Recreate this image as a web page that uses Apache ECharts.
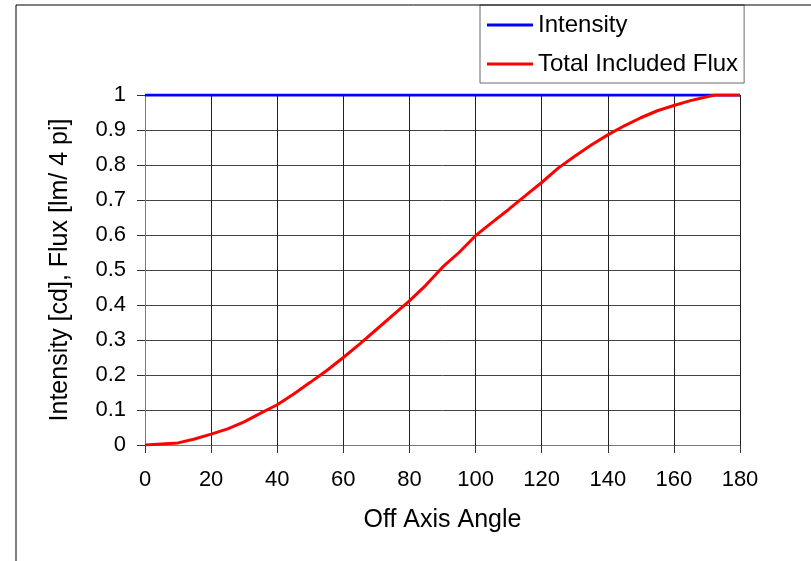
<!DOCTYPE html>
<html>
<head>
<meta charset="utf-8">
<script src="https://cdn.jsdelivr.net/npm/echarts@6/dist/echarts.min.js"></script>
<style>
html,body{margin:0;padding:0;background:#fff;}
#chart{width:811px;height:561px;}
</style>
</head>
<body>
<div id="chart"></div>
<script>
// Off-axis angle in degrees
const angles = [0, 5, 10, 15, 20, 25, 30, 35, 40, 45, 50, 55, 60, 65, 70, 75, 80, 85, 90, 95,
  100, 105, 110, 115, 120, 125, 130, 135, 140, 145, 150, 155, 160, 165, 170, 172.5, 180];
// Normalised intensity (cd)
const intensity = [1, 1, 1, 1, 1, 1, 1, 1, 1, 1, 1, 1, 1, 1, 1, 1, 1, 1, 1, 1,
  1, 1, 1, 1, 1, 1, 1, 1, 1, 1, 1, 1, 1, 1, 1, 1, 1];
// Total included flux (lm / 4 pi)
const flux = [0, 0.003, 0.006, 0.017, 0.031, 0.046, 0.066, 0.091, 0.115, 0.146, 0.179, 0.213, 0.25, 0.289, 0.33, 0.371, 0.412, 0.457, 0.508, 0.55,
  0.598, 0.636, 0.673, 0.712, 0.75, 0.791, 0.825, 0.857, 0.886, 0.912, 0.935, 0.955, 0.97, 0.984, 0.995, 1, 1];

const yTicks = ['0', '0.1', '0.2', '0.3', '0.4', '0.5', '0.6', '0.7', '0.8', '0.9', '1'];

const font = 'Liberation Sans, Arial, sans-serif';
const chart = echarts.init(document.getElementById('chart'));

chart.setOption({
  backgroundColor: '#ffffff',
  animation: false,
  textStyle: { fontFamily: font },
  grid: { left: 145, right: 71, top: 95, bottom: 116, containLabel: false },
  legend: {
    orient: 'vertical',
    left: 480,
    top: 5,
    padding: [8, 6, 7, 7],
    itemGap: 15,
    itemWidth: 46,
    itemHeight: 3,
    borderColor: '#6b6b6b',
    borderWidth: 1,
    backgroundColor: '#fff',
    textStyle: { fontFamily: font, fontSize: 24, color: '#000' },
    data: [
      { name: 'Intensity', icon: 'rect' },
      { name: 'Total Included Flux', icon: 'rect' }
    ]
  },
  xAxis: {
    type: 'value',
    min: 0, max: 180, interval: 20,
    name: 'Off Axis Angle',
    nameLocation: 'middle',
    nameGap: 63,
    nameTextStyle: { fontFamily: font, fontSize: 25, color: '#000' },
    axisLine: { show: true, onZero: false, lineStyle: { color: '#7a7a7a', width: 1 } },
    axisTick: { show: true, inside: false, length: 8, lineStyle: { color: '#333' } },
    axisLabel: { fontFamily: font, fontSize: 22, color: '#000', margin: 24 },
    splitLine: { show: true, lineStyle: { color: '#222', width: 1 } }
  },
  yAxis: {
    type: 'value',
    min: 0, max: 1, interval: 0.1,
    name: 'Intensity [cd], Flux [lm/ 4 pi]',
    nameLocation: 'middle',
    nameGap: 72,
    nameRotate: 90,
    nameTextStyle: { fontFamily: font, fontSize: 25, color: '#000' },
    axisLine: { show: true, lineStyle: { color: '#7a7a7a', width: 1 } },
    axisTick: { show: true, inside: false, length: 8, lineStyle: { color: '#333' } },
    axisLabel: {
      fontFamily: font, fontSize: 22, color: '#000', margin: 19,
      formatter: function (v) { return yTicks[Math.round(v * 10)]; }
    },
    splitLine: { show: true, lineStyle: { color: '#444', width: 1 } }
  },
  series: [
    {
      name: 'Intensity',
      type: 'line',
      showSymbol: false,
      color: '#0000ff',
      lineStyle: { color: '#0000ff', width: 3 },
      data: angles.map((a, i) => [a, intensity[i]]),
      z: 2
    },
    {
      name: 'Total Included Flux',
      type: 'line',
      showSymbol: false,
      color: '#ff0000',
      lineStyle: { color: '#ff0000', width: 3 },
      data: angles.map((a, i) => [a, flux[i]]),
      z: 3
    }
  ],
  graphic: [
    // outer frame edges along the top and left
    { type: 'line', shape: { x1: 16, y1: 5, x2: 811, y2: 5 }, style: { stroke: '#000', lineWidth: 1 }, z: 10 },
    { type: 'line', shape: { x1: 16, y1: 5, x2: 16, y2: 561 }, style: { stroke: '#000', lineWidth: 1 }, z: 10 }
  ]
});
</script>
</body>
</html>
